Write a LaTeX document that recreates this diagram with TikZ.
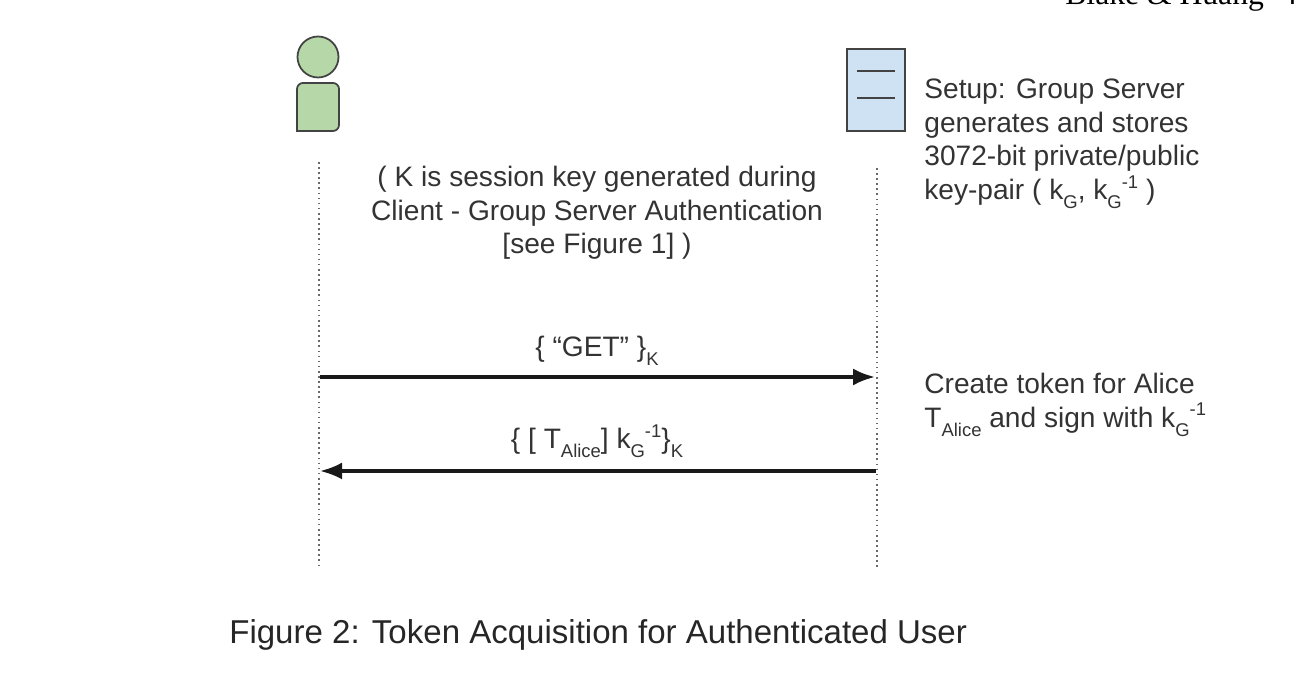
\documentclass[tikz,border=0pt]{standalone}
\usepackage{fontspec}
\setmainfont{Liberation Sans}
\newfontfamily\headfont{Liberation Serif}
\usetikzlibrary{arrows.meta}
\definecolor{usergreen}{HTML}{B6D7A8}
\definecolor{serverblue}{HTML}{CFE2F3}
\definecolor{edgegray}{HTML}{434343}
\newcommand{\lowsub}[1]{\raisebox{-.6ex}{\fontsize{10.5}{12}\selectfont #1}}
\newcommand{\highsup}[1]{\raisebox{.75ex}{\fontsize{10.5}{12}\selectfont #1}}
\tikzset{
	msg/.style={line width=1.9pt,-{Latex[length=4.4mm,width=3.4mm]},color=black!90},
	lifeline/.style={color=edgegray!80,line width=.9pt,dash pattern=on .9pt off 2pt},
	txt/.style={font=\fontsize{16}{19}\selectfont,color=black!80,align=left,anchor=north west,inner sep=0},
	ctxt/.style={font=\fontsize{16}{19}\selectfont,color=black!80,align=center,inner sep=0},
	shapeline/.style={color=edgegray,line width=1pt}
}
\begin{document}
\begin{tikzpicture}
	\useasboundingbox (0,0) rectangle (25.96,13.8);
	\node[font=\headfont\fontsize{18}{20}\selectfont,anchor=base west,inner sep=0] (head) at (21.3,13.7) {Blake \& Huang \hspace{.3em}4};
	% user
	\node[circle,draw=edgegray,fill=usergreen,line width=1pt,minimum size=.82cm,inner sep=0] (headuser) at (6.36,12.66) {};
	\draw[shapeline,fill=usergreen,rounded corners=.12cm] (5.94,11.18) -- (5.94,12.14) -- (6.78,12.14) -- (6.78,11.18) [sharp corners] -- cycle;
	% server
	\draw[shapeline,fill=serverblue] (16.94,11.18) rectangle (18.1,12.82);
	\draw[shapeline] (17.14,12.38) -- (17.9,12.38);
	\draw[shapeline] (17.14,11.84) -- (17.9,11.84);
	% lifelines
	\coordinate (utop) at (6.38,10.56);
	\coordinate (ubot) at (6.38,2.5);
	\coordinate (stop) at (17.54,10.44);
	\coordinate (sbot) at (17.54,2.4);
	\draw[lifeline] (utop) -- (ubot);
	\draw[lifeline] (stop) -- (sbot);
	% messages
	\coordinate (getu) at (6.4,6.26);
	\coordinate (gets) at (17.5,6.26);
	\coordinate (tokenu) at (6.4,4.38);
	\coordinate (tokens) at (17.52,4.38);
	\draw[msg] (getu) -- (gets);
	\draw[msg] (tokens) -- (tokenu);
	% texts
	\node[ctxt] (note) at (11.94,9.54) {( K is session key generated during\\Client - Group Server Authentication\\{}[see Figure 1] )};
	\node[ctxt] (get) at (11.94,6.78) {\{ ``GET'' \}\lowsub{K}};
	\node[ctxt] (token) at (11.94,4.98) {\{ [ T\lowsub{Alice}] k\lowsub{G}\highsup{-1}\}\lowsub{K}};
	\node[txt] (setup) at (18.48,12.22) {Setup: Group Server\\generates and stores\\3072-bit private/public\\key-pair ( k\lowsub{G}, k\lowsub{G}\highsup{-1} )};
	\node[txt] (create) at (18.48,6.34) {Create token for Alice\\T\lowsub{Alice} and sign with k\lowsub{G}\highsup{-1}};
	\node[font=\fontsize{18.8}{24}\selectfont,color=black!85,anchor=base west,inner sep=0] (caption) at (4.58,.94) {Figure 2: Token Acquisition for Authenticated User};
\end{tikzpicture}
\end{document}
